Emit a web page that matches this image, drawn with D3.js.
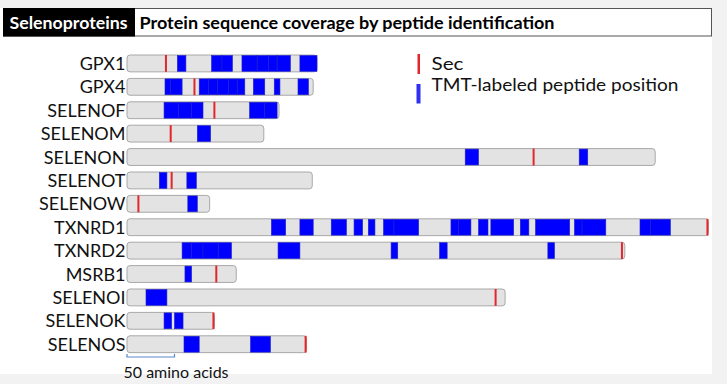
<!DOCTYPE html>
<html><head><meta charset="utf-8">
<script src="https://cdn.jsdelivr.net/npm/d3@7"></script>
<style>body{margin:0;background:#f2f2f2;} svg{display:block;}</style>
</head><body><svg id="c" width="727" height="384"></svg>
<script>
// ---- data (amino-acid units) ----
const proteins = ["GPX1","GPX4","SELENOF","SELENOM","SELENON","SELENOT","SELENOW","TXNRD1","TXNRD2","MSRB1","SELENOI","SELENOK","SELENOS"];
const lengths  = [200, 196, 160, 144, 556, 195, 87, 612, 524, 115, 398, 92, 189];
const secPositions = [41, 71, 92, 46, 428, 47, 12, 611, 521, 94, 388, 91, 188];
const peptides = [
  [[53,62],[89,100],[100,111],[121,137],[137,149],[149,158],[158,172],[182,200]],
  [[40,46],[46,58],[76,86],[86,95],[95,107],[107,116],[116,124],[133,145],[155,161],[180,191]],
  [[39,54],[54,68],[68,80],[129,145],[145,158]],
  [[74,88]],
  [[356,370],[476,485]],
  [[34,42],[63,73]],
  [[64,74]],
  [[152,167],[182,196],[215,231],[239,248],[254,261],[270,281],[281,307],[341,349],[349,362],[370,380],[383,407],[414,423],[430,466],[471,479],[479,504],[540,551],[551,572]],
  [[58,68],[68,80],[80,96],[96,110],[159,182],[278,285],[329,337],[443,450]],
  [[61,68]],
  [[20,42]],
  [[39,47],[50,59]],
  [[60,76],[130,151]]
];
const scaleBarAA = 50;
const titleTag = "Selenoproteins";
const titleText = "Protein sequence coverage by peptide identification";
const legendLabels = ["Sec", "TMT-labeled peptide position"];

// ---- drawing ----
const svg = d3.select("#c");
const FONT = "Lato, 'Liberation Sans', Arial, sans-serif";

svg.append("rect").attr("x",0).attr("y",8).attr("width",712).attr("height",366).attr("fill","#ffffff");

const x = d3.scaleLinear().domain([0, 612]).range([127, 127 + 612*0.95]);
const y = d3.scaleBand().domain(proteins).range([55, 55 + 23.4*(13-0.28)]).paddingInner(0.28).paddingOuter(0);
const bh = y.bandwidth();

// title
svg.append("rect").attr("x",3.5).attr("y",8.5).attr("width",708).attr("height",27.5)
  .attr("fill","#fff").attr("stroke","#555").attr("stroke-width",1);
svg.append("rect").attr("x",3).attr("y",8).attr("width",132).attr("height",28.5).attr("fill","#000");
svg.append("text").attr("x",9.5).attr("y",28.5).attr("fill","#fff")
  .attr("font-family",FONT).attr("font-weight","bold").attr("font-size",17.5)
  .attr("textLength",118).attr("lengthAdjust","spacingAndGlyphs").text(titleTag);
svg.append("text").attr("x",139.5).attr("y",28.5).attr("fill","#000")
  .attr("font-family",FONT).attr("font-weight","bold").attr("font-size",17.5)
  .attr("textLength",415).attr("lengthAdjust","spacingAndGlyphs").text(titleText);

// rows
const rows = svg.append("g").selectAll("g").data(proteins).join("g")
  .attr("transform", d => `translate(0,${y(d)})`);

rows.append("text").attr("x",125.5).attr("y", bh/2 + 6.5)
  .attr("text-anchor","end").attr("font-family",FONT).attr("font-size",18).attr("fill","#111")
  .text(d => d);

rows.append("rect").attr("x", x(0)).attr("y",0)
  .attr("width",(d,i) => x(lengths[i]) - x(0)).attr("height",bh)
  .attr("rx",3).attr("fill","#e3e3e3").attr("stroke","#a8a8a8").attr("stroke-width",1);

rows.each(function(d,i){
  d3.select(this).selectAll("rect.pep").data(peptides[i]).join("rect").attr("class","pep")
    .attr("x", p => x(p[0])).attr("y",0.5)
    .attr("width", p => x(p[1]) - x(p[0])).attr("height", bh-1)
    .attr("fill","#0000ff").attr("stroke","#2020c8").attr("stroke-width",0.6);
});

rows.append("line")
  .attr("x1",(d,i)=>x(secPositions[i])).attr("x2",(d,i)=>x(secPositions[i]))
  .attr("y1",0).attr("y2",bh).attr("stroke","#e3262b").attr("stroke-width",2);

// legend
svg.append("rect").attr("x",417.5).attr("y",54).attr("width",2.5).attr("height",20).attr("fill","#e3262b");
svg.append("text").attr("x",431.5).attr("y",69.5).attr("font-family",FONT).attr("font-size",17.5).attr("fill","#111")
  .attr("textLength",32).attr("lengthAdjust","spacingAndGlyphs").text(legendLabels[0]);
svg.append("rect").attr("x",416.5).attr("y",84).attr("width",4).attr("height",19.5).attr("fill","#3030f0");
svg.append("text").attr("x",431.5).attr("y",91).attr("font-family",FONT).attr("font-size",17.5).attr("fill","#111")
  .attr("textLength",247).attr("lengthAdjust","spacingAndGlyphs").text(legendLabels[1]);

// scale bar
svg.append("path")
  .attr("d", `M${x(0)},354 V357 H${x(scaleBarAA)} V354`)
  .attr("fill","none").attr("stroke","#5b87c8").attr("stroke-width",1.2);
svg.append("text").attr("x",123.5).attr("y",377.5).attr("font-family",FONT).attr("font-size",16).attr("fill","#111")
  .text(scaleBarAA + " amino acids");
</script></body></html>
